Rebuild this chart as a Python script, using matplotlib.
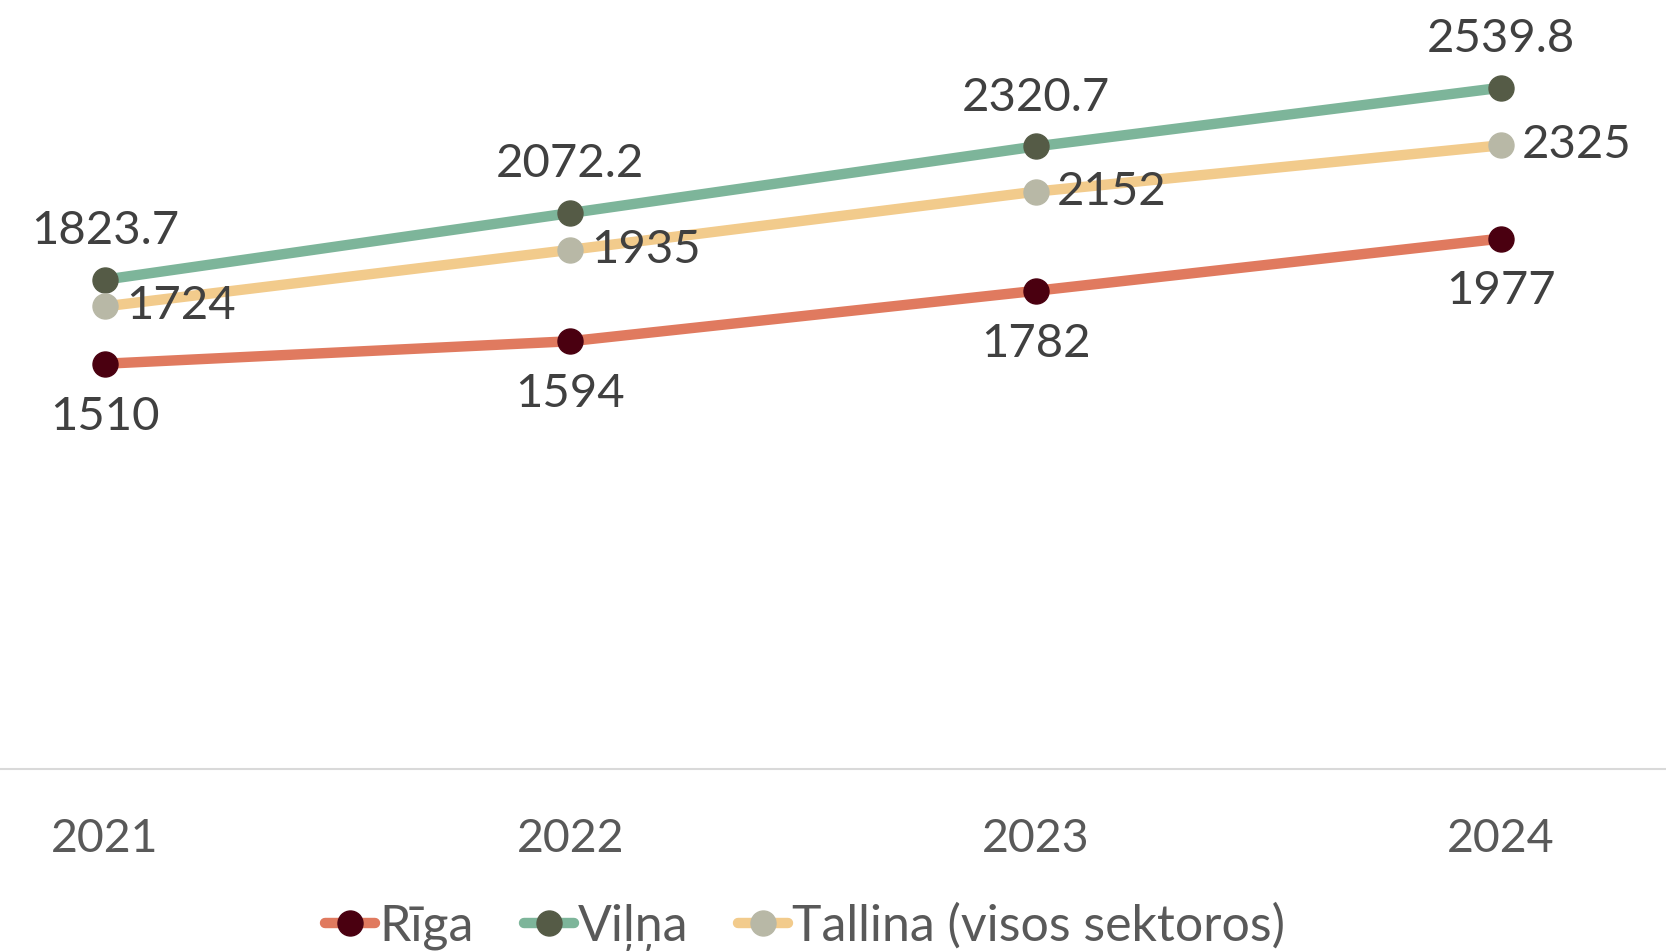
import matplotlib
matplotlib.use("Agg")
import matplotlib.pyplot as plt

years = ["2021", "2022", "2023", "2024"]
riga = [1510, 1594, 1782, 1977]
vilna = [1823.7, 2072.2, 2320.7, 2539.8]
tallina = [1724, 1935, 2152, 2325]

plt.rcParams["font.family"] = ["Lato", "DejaVu Sans"]

fig = plt.figure(figsize=(16.66, 9.51), dpi=100)
ax = fig.add_axes([0, 182.5 / 951, 1, 768.5 / 951])

x = list(range(len(years)))
series = [
    ("Rīga", riga, "#E07A5F", "#4A0010", "below"),
    ("Viļņa", vilna, "#7DB59A", "#555B46", "above"),
    ("Tallina (visos sektoros)", tallina, "#F2CB8C", "#B8B8A6", "right"),
]

for name, vals, lc, mc, pos in series:
    ax.plot(x, vals, color=lc, lw=7.5, marker="o", ms=18, mfc=mc, mec=mc,
            label=name, solid_capstyle="round", zorder=3)
    for xi, v in zip(x, vals):
        txt = f"{v:g}" if isinstance(v, int) else f"{v:.1f}"
        if pos == "below":
            ax.annotate(txt, (xi, v), xytext=(0, -38), textcoords="offset points",
                        ha="center", va="center", fontsize=34, color="#404040")
        elif pos == "above":
            ax.annotate(txt, (xi, v), xytext=(0, 35), textcoords="offset points",
                        ha="center", va="center", fontsize=34, color="#404040")
        else:
            ax.annotate(txt, (xi, v), xytext=(15, 0), textcoords="offset points",
                        ha="left", va="center", fontsize=34, color="#404040")

ax.set_xlim(-0.2257, 3.3546)
ax.set_ylim(0, 2867)
ax.set_xticks(x)
ax.set_xticklabels(years, fontsize=33.5, color="#595959")
ax.tick_params(axis="x", length=0, pad=36)
ax.set_yticks([])
for s in ["top", "left", "right"]:
    ax.spines[s].set_visible(False)
ax.spines["bottom"].set_color("#D9D9D9")
ax.spines["bottom"].set_linewidth(1.5)

leg = fig.legend(loc="center", bbox_to_anchor=(0.4834, 1 - 927 / 951), ncol=3,
                 frameon=False, fontsize=36, handlelength=1.0, handletextpad=0.08,
                 columnspacing=1.0, labelcolor="#595959")

fig.savefig("out.png", dpi=100)
